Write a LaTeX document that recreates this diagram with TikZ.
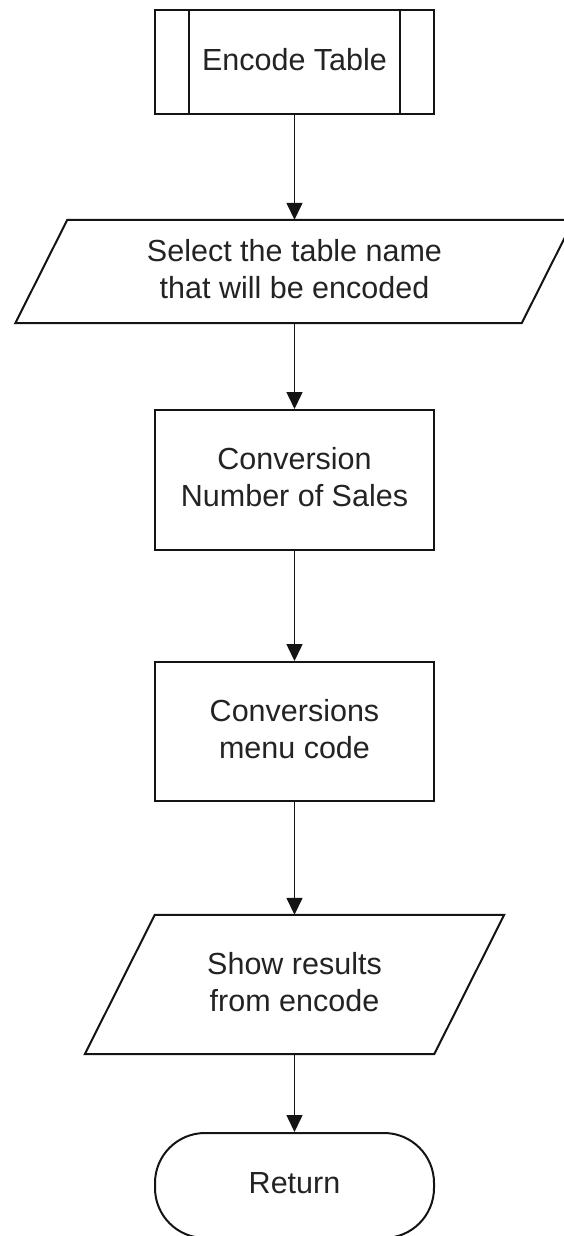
\documentclass[tikz,border=0pt]{standalone}
\usepackage{fontspec}
\setmainfont{Liberation Sans}
\usetikzlibrary{arrows.meta}
\definecolor{inkline}{RGB}{20,20,20}
\definecolor{inktext}{RGB}{35,35,35}
% extra depth under the last line lifts the text slightly above the shape centre
\newcommand{\tailstrut}{\rule[-6pt]{0pt}{6pt}}
\begin{document}
\begin{tikzpicture}[x=1pt,y=-1pt,
  label/.style={font=\fontsize{30.5pt}{37pt}\selectfont, text=inktext,
    align=center, inner sep=0pt},
  boxline/.style={draw=inkline, line width=2pt},
  procbox/.style={label, boxline, rectangle, minimum width=279pt},
  iobox/.style={label, rectangle, draw=none},
  endbox/.style={label, boxline, rectangle, rounded corners=50pt,
    minimum width=279pt},
  conn/.style={draw=inkline, line width=1.5pt,
    -{Triangle[length=17pt,width=16pt]}}
]
% page
\fill[white] (0,0) rectangle (563,1236);
\useasboundingbox (0,0) rectangle (563,1236);

% predefined process
\node[procbox, minimum height=104pt] (enc) at (294.5,62) {Encode Table\tailstrut};
\draw[boxline] ([xshift=35pt]enc.north west) -- ([xshift=35pt]enc.south west);
\draw[boxline] ([xshift=-35pt]enc.north east) -- ([xshift=-35pt]enc.south east);

% input: table name
\node[iobox, minimum width=506pt, minimum height=103pt] (sel) at (294.5,271.5)
  {\fontsize{30.5pt}{35pt}\selectfont Select the table name\\that will be encoded\tailstrut};
\draw[boxline, line join=miter]
  ([xshift=26pt]sel.north west) -- ([xshift=26pt]sel.north east)
  -- ([xshift=-26pt]sel.south east) -- ([xshift=-26pt]sel.south west) -- cycle;

% processes
\node[procbox, minimum height=140pt] (conv1) at (294.5,480)
  {Conversion\\Number of Sales\tailstrut};
\node[procbox, minimum height=139pt] (conv2) at (294.5,731.5)
  {Conversions\\menu code\tailstrut};

% output: results
\node[iobox, minimum width=349pt, minimum height=139pt] (show) at (294.5,984.5)
  {Show results\\from encode\tailstrut};
\draw[boxline, line join=miter]
  ([xshift=35pt]show.north west) -- ([xshift=35pt]show.north east)
  -- ([xshift=-35pt]show.south east) -- ([xshift=-35pt]show.south west) -- cycle;

% terminator
\node[endbox, minimum height=105pt] (ret) at (294.5,1185.5) {Return\tailstrut};

% flow
\draw[conn] (enc.south) -- (sel.north);
\draw[conn] (sel.south) -- (conv1.north);
\draw[conn] (conv1.south) -- (conv2.north);
\draw[conn] (conv2.south) -- (show.north);
\draw[conn] (show.south) -- (ret.north);
\end{tikzpicture}
\end{document}
